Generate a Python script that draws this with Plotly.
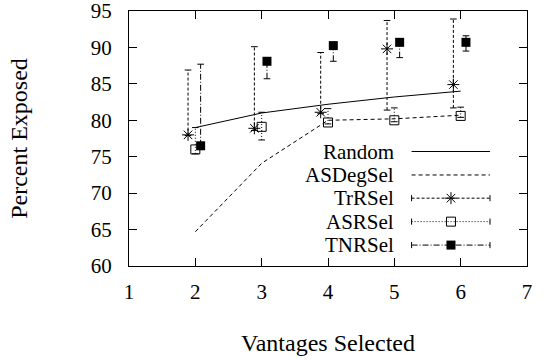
import plotly.graph_objects as go

# ---------------- data ----------------
vantages = [2, 3, 4, 5, 6]
random_vals = [79.0, 81.0, 82.2, 83.2, 84.0]
asdegsel_vals = [64.7, 74.1, 80.0, 80.2, 80.7]
trrsel_vals = [78.0, 78.9, 81.1, 89.8, 84.9]
trrsel_low = [77.9, 78.6, 80.9, 81.4, 81.7]
trrsel_high = [86.9, 90.1, 89.3, 93.7, 93.9]
asrsel_vals = [76.0, 79.1, 79.7, 80.0, 80.6]
asrsel_low = [75.4, 77.3, 79.5, 79.8, 80.4]
asrsel_high = [79.0, 81.1, 81.6, 81.7, 81.8]
tnrsel_vals = [76.5, 88.1, 90.25, 90.7, 90.7]
tnrsel_low = [76.5, 85.7, 88.1, 88.6, 89.5]
tnrsel_high = [87.7, 88.1, 90.3, 90.7, 91.6]
legend_names = ["Random", "ASDegSel", "TrRSel", "ASRSel", "TNRSel"]
x_ticks = [1, 2, 3, 4, 5, 6, 7]
y_ticks = [60, 65, 70, 75, 80, 85, 90, 95]

FONT = "Liberation Serif"
FS_TICK = 21
FS_KEY = 21
FS_TITLE = 24
TR_OFF, TN_OFF, CAP = -0.11, 0.08, 0.05

fig = go.Figure()


def errbars(xs, lows, highs, dash, name):
    sx, sy, cx, cy = [], [], [], []
    for x, lo, hi in zip(xs, lows, highs):
        sx += [x, x, None]
        sy += [lo, hi, None]
        for v in (lo, hi):
            cx += [x - CAP, x + CAP, None]
            cy += [v, v, None]
    fig.add_trace(go.Scatter(x=sx, y=sy, mode="lines", showlegend=False, name=name,
                             line=dict(color="black", width=1, dash=dash), hoverinfo="skip"))
    fig.add_trace(go.Scatter(x=cx, y=cy, mode="lines", showlegend=False, name=name,
                             line=dict(color="black", width=1), hoverinfo="skip"))


# lines
fig.add_trace(go.Scatter(x=vantages, y=random_vals, mode="lines", name="Random",
                         line=dict(color="black", width=1)))
fig.add_trace(go.Scatter(x=vantages, y=asdegsel_vals, mode="lines", name="ASDegSel",
                         line=dict(color="black", width=1, dash="4px,3px")))

tr_x = [v + TR_OFF for v in vantages]
tn_x = [v + TN_OFF for v in vantages]

errbars(tr_x, trrsel_low, trrsel_high, "3px,2px", "TrRSel")
errbars(vantages, asrsel_low, asrsel_high, "1px,2px", "ASRSel")
errbars(tn_x, tnrsel_low, tnrsel_high, "6px,2px,1px,2px", "TNRSel")

fig.add_trace(go.Scatter(x=tr_x, y=trrsel_vals, mode="markers", name="TrRSel",
                         marker=dict(symbol="asterisk-open", size=10, color="black",
                                     line=dict(color="black", width=1))))
fig.add_trace(go.Scatter(x=vantages, y=asrsel_vals, mode="markers", name="ASRSel",
                         marker=dict(symbol="square-open", size=9, color="black",
                                     line=dict(color="black", width=1))))
fig.add_trace(go.Scatter(x=tn_x, y=tnrsel_vals, mode="markers", name="TNRSel",
                         marker=dict(symbol="square", size=9, color="black",
                                     line=dict(color="black", width=0))))

# ---------------- gnuplot-style key (text left, sample right) ----------------
key_rows = [0.449, 0.357, 0.266, 0.174, 0.082]
kx0, kx1, kxm, ktext = 0.710, 0.907, 0.809, 0.668
kcap = 0.012
styles = [None, "4px,3px", "3px,2px", "1px,2px", "6px,2px,1px,2px"]
markers = [None, None, "asterisk-open", "square-open", "square"]
for i, (name, ky) in enumerate(zip(legend_names, key_rows)):
    fig.add_annotation(x=ktext, y=ky, xref="paper", yref="paper", text=name,
                       showarrow=False, xanchor="right", yanchor="middle", borderpad=0,
                       font=dict(family=FONT, size=FS_KEY, color="black"))
    fig.add_trace(go.Scatter(x=[kx0, kx1], y=[ky, ky], mode="lines", xaxis="x2", yaxis="y2",
                             showlegend=False, hoverinfo="skip",
                             line=dict(color="black", width=1, dash=styles[i])))
    if markers[i]:
        fig.add_trace(go.Scatter(x=[kx0, kx0, None, kx1, kx1], y=[ky - kcap, ky + kcap, None, ky - kcap, ky + kcap],
                                 mode="lines", xaxis="x2", yaxis="y2", showlegend=False, hoverinfo="skip",
                                 line=dict(color="black", width=1)))
        fig.add_trace(go.Scatter(x=[kxm], y=[ky], mode="markers", xaxis="x2", yaxis="y2",
                                 showlegend=False, hoverinfo="skip",
                                 marker=dict(symbol=markers[i], size=10 if i == 2 else 9, color="black",
                                             line=dict(color="black", width=1 if i < 4 else 0))))

axis_common = dict(showline=True, linecolor="black", linewidth=1, mirror="ticks",
                   ticks="inside", ticklen=8, tickwidth=1, tickcolor="black",
                   showgrid=False, zeroline=False, automargin=False,
                   ticklabeloverflow="allow",
                   tickfont=dict(family=FONT, size=FS_TICK, color="black"))

fig.update_layout(
    width=547, height=360,
    margin=dict(l=129, r=20, t=11, b=94),
    paper_bgcolor="white", plot_bgcolor="white",
    showlegend=False,
    xaxis=dict(range=[1, 7], tickvals=x_ticks, ticklabelstandoff=7,
               title=dict(text="Vantages Selected", standoff=30,
                          font=dict(family=FONT, size=FS_TITLE, color="black")),
               **axis_common),
    yaxis=dict(range=[60, 95], tickvals=y_ticks, ticklabelstandoff=12,
               title=dict(text="Percent Exposed", standoff=56,
                          font=dict(family=FONT, size=FS_TITLE, color="black")),
               **axis_common),
    xaxis2=dict(overlaying="x", range=[0, 1], visible=False),
    yaxis2=dict(overlaying="y", range=[0, 1], visible=False),
)

fig.write_html("out.html", config={"displayModeBar": False},
               post_script="document.body.style.margin='0';")
